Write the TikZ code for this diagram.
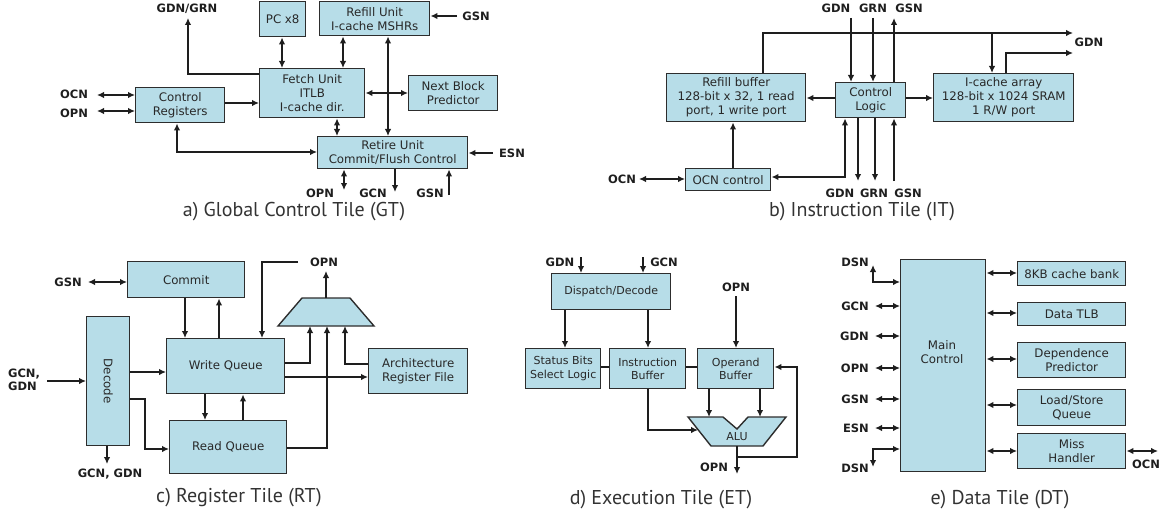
\documentclass[tikz,border=0pt]{standalone}
\usepackage{fontspec}
\setmainfont{DejaVu Sans}
\newfontfamily\capfont{PT Sans}
\usetikzlibrary{arrows.meta,calc}
\definecolor{boxfill}{RGB}{183,221,232}
\definecolor{boxline}{RGB}{45,45,45}
\definecolor{txt}{RGB}{40,40,40}
\definecolor{wirec}{RGB}{30,30,30}
\tikzset{
  box/.style={draw=boxline, line width=1.4pt, fill=boxfill, align=center, inner sep=1pt,
    font=\fontsize{11.8}{14}\selectfont, text=txt, anchor=north west},
  boxd/.style={box, font=\fontsize{11}{13.5}\selectfont},
  bt/.style={align=center, inner sep=0pt, font=\fontsize{11.8}{14}\selectfont, text=txt},
  lab/.style={font=\bfseries\fontsize{11.5}{13}\selectfont, text=wirec, inner sep=0pt, align=left},
  captxt/.style={font=\capfont\fontsize{20}{22}\selectfont, text=black!80, inner sep=0pt},
  wire/.style={line width=2.2pt, draw=wirec},
  ar/.style={wire, -{Latex[length=7pt,width=6.5pt]}},
  br/.style={wire, {Latex[length=7pt,width=6.5pt]}-{Latex[length=7pt,width=6.5pt]}},
  shp/.style={draw=boxline, line width=1.4pt, fill=boxfill},
}
\begin{document}
\begin{tikzpicture}[x=1pt,y=-1pt]
\useasboundingbox (0,0) rectangle (1164,516);

% ================= a) Global Control Tile =================
\node[box, minimum width=89pt, minimum height=35pt] (ctrl) at (135,87) {Control\\Registers};
\node[box, minimum width=46pt, minimum height=35pt] (pc) at (259,1) {PC x8};
\node[box, minimum width=110pt, minimum height=34pt] (refill) at (319,1) {Refill Unit\\I-cache MSHRs};
\node[box, minimum width=105pt, minimum height=49pt] (fetch) at (259,68) {Fetch Unit\\ITLB\\I-cache dir.};
\node[box, minimum width=89pt, minimum height=35pt] (nbp) at (408,75) {Next Block\\Predictor};
\node[box, minimum width=150pt, minimum height=32pt] (retire) at (317,136) {Retire Unit\\Commit/Flush Control};

\node[lab] (gdngrn) at (187,9) {GDN/GRN};
\node[lab] (ocnA) at (74,94) {OCN};
\node[lab] (opnA) at (74,113) {OPN};
\node[lab] (gsnA1) at (476,16) {GSN};
\node[lab] (esnA) at (512,153) {ESN};
\node[lab] (opnA2) at (320,193) {OPN};
\node[lab] (gcnA) at (373,193) {GCN};
\node[lab] (gsnA2) at (430,193) {GSN};

\draw[br] (97,95) -- (ctrl.west |- 97,95);
\draw[br] (97,111) -- (ctrl.west |- 97,111);
\draw[ar] (ctrl.east |- 0,103) -- (fetch.west |- 0,103);
\draw[ar] (fetch.west |- 0,74) -| (188,18);
\draw[br] (177,0 |- ctrl.south) |- (retire.west |- 0,152);
\draw[br] (282,0 |- pc.south) -- (282,0 |- fetch.north);
\draw[br] (343,0 |- refill.south) -- (343,0 |- fetch.north);
\draw[br] (388,0 |- refill.south) -- (388,0 |- retire.north);
\draw[br] (fetch.east |- 0,93) -- (nbp.west |- 0,93);
\draw[br] (337,0 |- fetch.south) -- (337,0 |- retire.north);
\draw[ar] (457,16) -- (refill.east |- 0,16);
\draw[ar] (493,153) -- (retire.east |- 0,153);
\draw[br] (344,0 |- retire.south) -- (344,190);
\draw[ar] (395,0 |- retire.south) -- (395,192);
\draw[ar] (449,195) -- (449,0 |- retire.south);

\node[captxt] (capA) at (294,212) {a) Global Control Tile (GT)};

% ================= b) Instruction Tile =================
\node[box, minimum width=139pt, minimum height=48pt] (rbuf) at (666,73) {Refill buffer\\128-bit x 32, 1 read\\port, 1 write port};
\node[box, minimum width=140pt, minimum height=48pt] (icache) at (933,73) {I-cache array\\128-bit x 1024 SRAM\\1 R/W port};
\node[box, minimum width=70pt, minimum height=35pt] (clog) at (835,82) {Control\\Logic};
\node[box, minimum width=85pt, minimum height=22pt] (ocnc) at (685,168) {OCN control};

\node[lab] (gdnB1) at (836,8) {GDN};
\node[lab] (grnB1) at (873,8) {GRN};
\node[lab] (gsnB1) at (909,8) {GSN};
\node[lab] (gdnB2) at (840,193) {GDN};
\node[lab] (grnB2) at (874,193) {GRN};
\node[lab] (gsnB2) at (908,193) {GSN};
\node[lab] (gdnB3) at (1089,42) {GDN};
\node[lab] (ocnB) at (622,179) {OCN};

\draw[ar] (763,0 |- rbuf.north) |- (1073,33);
\draw[ar] (992,33) -- (992,0 |- icache.north);
\draw[ar] (1006,0 |- icache.north) |- (1073,53);
\draw[ar] (clog.west |- 0,98) -- (rbuf.east |- 0,98);
\draw[ar] (clog.east |- 0,98) -- (icache.west |- 0,98);
\draw[ar] (851,18) -- (851,0 |- clog.north);
\draw[ar] (873,18) -- (873,0 |- clog.north);
\draw[ar] (894,0 |- clog.north) -- (894,18);
\draw[ar] (858,0 |- clog.south) -- (858,181);
\draw[ar] (875,0 |- clog.south) -- (875,181);
\draw[ar] (894,181) -- (894,0 |- clog.south);
\draw[br] (ocnc.east |- 0,177) -| (845,0 |- clog.south);
\draw[ar] (733,0 |- ocnc.north) -- (733,0 |- rbuf.south);
\draw[br] (639,179) -- (ocnc.west |- 0,179);

\node[captxt] (capB) at (862,212) {b) Instruction Tile (IT)};

% ================= c) Register Tile =================
\node[box, minimum width=117pt, minimum height=36pt] (commit) at (127,261) {Commit};
\node[box, minimum width=43pt, minimum height=129pt] (decode) at (86,316) {};
\node[bt, rotate=-90] (dectxt) at (decode.center) {Decode};
\node[box, minimum width=118pt, minimum height=55pt] (wq) at (166,338) {Write Queue};
\node[box, minimum width=117pt, minimum height=53pt] (rq) at (169,420) {Read Queue};
\node[box, minimum width=99pt, minimum height=45pt] (arf) at (368,348) {Architecture\\Register File};
\draw[shp] (302,298) coordinate (muxtl) -- (350,298) -- (374,326) -- (278,326) -- cycle;
\coordinate (mux) at (326,312);

\node[lab] (gsnC) at (68,282) {GSN};
\node[lab] (gcngdnC) at (24,380) {GCN,\\GDN};
\node[lab] (gcngdnC2) at (110,474) {GCN, GDN};
\node[lab] (opnC) at (324,262) {OPN};

\draw[br] (88,282) -- (commit.west |- 0,282);
\draw[ar] (47,381) -- (decode.west |- 0,381);
\draw[ar] (107,0 |- decode.south) -- (107,464);
\draw[ar] (decode.east |- 0,372) -- (wq.west |- 0,372);
\draw[ar] (decode.east |- 0,399) -| (145,449) -- (rq.west |- 0,449);
\draw[ar] (205,0 |- wq.south) -- (205,0 |- rq.north);
\draw[ar] (243,0 |- rq.north) -- (243,0 |- wq.south);
\draw[ar] (185,0 |- commit.south) -- (185,0 |- wq.north);
\draw[ar] (219,0 |- wq.north) -- (219,0 |- commit.south);
\draw[wire] (298,262) -| (262,300);
\draw[ar] (262,299) -- (262,0 |- wq.north);
\draw[ar] (326,298) -- (326,271);
\draw[ar] (wq.east |- 0,363) -| (310,326);
\draw[ar] (rq.east |- 0,448) -| (327,326);
\draw[ar] (arf.west |- 0,364) -| (345,326);
\draw[ar] (wq.east |- 0,377) -- (arf.west |- 0,377);

\node[captxt] (capC) at (239,498) {c) Register Tile (RT)};

% ================= d) Execution Tile =================
\node[boxd, minimum width=119pt, minimum height=36pt] (disp) at (551,273) {Dispatch/Decode};
\node[boxd, minimum width=75pt, minimum height=40pt] (status) at (525,348) {Status Bits\\Select Logic};
\node[boxd, minimum width=76pt, minimum height=40pt] (ibuf) at (609,348) {Instruction\\Buffer};
\node[boxd, minimum width=76pt, minimum height=40pt] (obuf) at (697,348) {Operand\\Buffer};
\draw[shp] (688,417) -- (723,417) -- (737,429) -- (748,417) -- (786,417) -- (763,446) -- (711,446) -- cycle;
\node[bt, font=\fontsize{11}{13}\selectfont] (alu) at (737,437) {ALU};

\node[lab] (gdnD) at (560,262) {GDN};
\node[lab] (gcnD) at (664,262) {GCN};
\node[lab] (opnD1) at (736,287) {OPN};
\node[lab] (opnD2) at (714,467) {OPN};

\draw[wire] (status.east |- 0,367) -- (ibuf.west |- 0,367);
\draw[wire] (ibuf.east |- 0,367) -- (obuf.west |- 0,367);
\draw[ar] (581,257) -- (581,0 |- disp.north);
\draw[ar] (643,257) -- (643,0 |- disp.north);
\draw[ar] (565,0 |- disp.south) -- (565,0 |- status.north);
\draw[ar] (648,0 |- disp.south) -- (648,0 |- ibuf.north);
\draw[ar] (736,296) -- (736,0 |- obuf.north);
\draw[ar] (709,0 |- obuf.south) -- (709,417);
\draw[ar] (760,0 |- obuf.south) -- (760,417);
\draw[ar] (648,0 |- ibuf.south) |- (698,430);
\draw[ar] (737,446) -- (737,474);
\draw[ar] (737,457) -| (797,367) -- (obuf.east |- 0,367);

\node[captxt] (capD) at (661,500) {d) Execution Tile (ET)};

% ================= e) Data Tile =================
\node[box, minimum width=85pt, minimum height=212pt] (main) at (900,259) {};
\node[bt] (maintxt) at (942,352) {Main\\Control};
\node[box, minimum width=108pt, minimum height=24pt] (cache) at (1017,261) {8KB cache bank};
\node[box, minimum width=108pt, minimum height=23pt] (tlb) at (1017,302) {Data TLB};
\node[box, minimum width=108pt, minimum height=35pt] (dep) at (1017,342) {Dependence\\Predictor};
\node[box, minimum width=108pt, minimum height=36pt] (lsq) at (1017,389) {Load/Store\\Queue};
\node[box, minimum width=108pt, minimum height=35pt] (miss) at (1017,433) {Miss\\Handler};

\node[lab, anchor=east] (dsnE1) at (869,262) {DSN};
\node[lab, anchor=east] (gcnE) at (869,306) {GCN};
\node[lab, anchor=east] (gdnE) at (869,336) {GDN};
\node[lab, anchor=east] (opnE) at (869,368) {OPN};
\node[lab, anchor=east] (gsnE) at (869,399) {GSN};
\node[lab, anchor=east] (esnE) at (869,428) {ESN};
\node[lab, anchor=east] (dsnE2) at (869,468) {DSN};
\node[lab] (ocnE) at (1146,464) {OCN};

\draw[br] (main.east |- 0,273) -- (cache.west |- 0,273);
\draw[br] (main.east |- 0,313) -- (tlb.west |- 0,313);
\draw[br] (main.east |- 0,359) -- (dep.west |- 0,359);
\draw[br] (main.east |- 0,405) -- (lsq.west |- 0,405);
\draw[br] (main.east |- 0,451) -- (miss.west |- 0,451);
\draw[br] (miss.east |- 0,451) -- (1158,451);
\draw[br] (875,306) -- (main.west |- 0,306);
\draw[br] (875,336) -- (main.west |- 0,336);
\draw[br] (875,368) -- (main.west |- 0,368);
\draw[br] (875,399) -- (main.west |- 0,399);
\draw[br] (875,428) -- (main.west |- 0,428);
\draw[br] (873,265) |- (main.west |- 0,282);
\draw[br] (main.west |- 0,449) -| (873,467);

\node[captxt] (capE) at (1000,500) {e) Data Tile (DT)};
\end{tikzpicture}
\end{document}
